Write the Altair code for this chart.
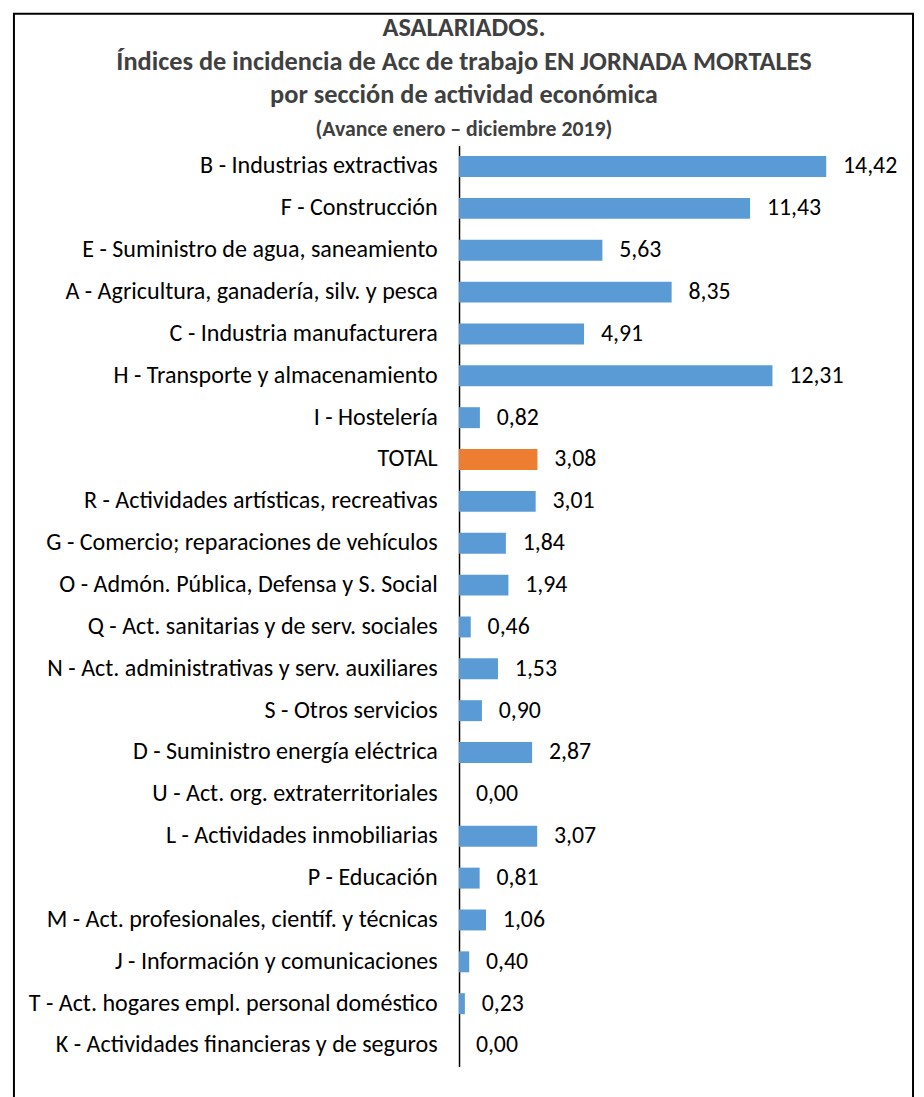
import altair as alt
import pandas as pd

categories = [
    "B - Industrias extractivas",
    "F - Construcción",
    "E - Suministro de agua, saneamiento",
    "A - Agricultura, ganadería, silv. y pesca",
    "C - Industria manufacturera",
    "H - Transporte y almacenamiento",
    "I - Hostelería",
    "TOTAL",
    "R - Actividades artísticas, recreativas",
    "G - Comercio; reparaciones de vehículos",
    "O - Admón. Pública, Defensa y S. Social ",
    "Q - Act. sanitarias y de serv. sociales",
    "N - Act. administrativas y serv. auxiliares",
    "S - Otros servicios",
    "D - Suministro energía eléctrica",
    "U - Act. org. extraterritoriales",
    "L - Actividades inmobiliarias",
    "P - Educación",
    "M - Act. profesionales, científ. y técnicas",
    "J - Información y comunicaciones",
    "T - Act. hogares empl. personal doméstico",
    "K - Actividades financieras y de seguros",
]
values = [14.42, 11.43, 5.63, 8.35, 4.91, 12.31, 0.82, 3.08, 3.01, 1.84, 1.94,
          0.46, 1.53, 0.90, 2.87, 0.00, 3.07, 0.81, 1.06, 0.40, 0.23, 0.00]
groups = ["Total" if c == "TOTAL" else "Sección" for c in categories]

title_lines = [
    "ASALARIADOS.",
    "Índices de incidencia de Acc de trabajo EN JORNADA MORTALES",
    "por sección de actividad económica",
]
subtitle_line = "(Avance enero – diciembre 2019)"

df = pd.DataFrame({
    "cat": categories,
    "val": values,
    "grp": groups,
    "lbl": [f"{v:.2f}".replace(".", ",") for v in values],
})

FONT = "Carlito, 'Liberation Sans Narrow', 'Open Sans', sans-serif"

W = 411
H = 929
PL = 455
PT = 134
X0 = 8 + PL
Y0 = 8 + PT

base = alt.Chart(df)
yenc = alt.Y("cat:N", sort=categories, title=None,
             scale=alt.Scale(paddingInner=0.5, paddingOuter=0.25),
             axis=alt.Axis(ticks=False, labelPadding=22, labelFontSize=24.3,
                           labelFont=FONT, labelColor="#000000", labelLimit=500,
                           domainColor="#000000", domainWidth=1.5, grid=False))
xenc = alt.X("val:Q", scale=alt.Scale(domain=[0, 16]), axis=None)

bars = base.mark_bar().encode(
    x=xenc, y=yenc,
    color=alt.Color("grp:N", scale=alt.Scale(domain=["Sección", "Total"],
                                               range=["#5B9BD5", "#ED7D31"]),
                    legend=None),
)
text = base.mark_text(align="left", dx=17, fontSize=24, font=FONT,
                      color="#000000").encode(x=xenc, y=yenc, text="lbl:N")

all_lines = title_lines + [subtitle_line]
line_y = [31, 66, 99, 132]
line_fs = [26.6, 26.6, 26.6, 22]

def tline(i):
    return alt.Chart(pd.DataFrame({"t": [all_lines[i]]})).mark_text(
        align="center", baseline="alphabetic", fontSize=line_fs[i], fontWeight="bold",
        font=FONT, color="#404040").encode(
        x=alt.value(468 - X0), y=alt.value(line_y[i] - Y0), text="t:N")

titles = [tline(i) for i in range(4)]

border = alt.Chart(pd.DataFrame({"a": [0]})).mark_rect(
    fill=None, stroke="#000000", strokeWidth=2).encode(
    x=alt.value(14 - X0), x2=alt.value(921 - X0),
    y=alt.value(9 - Y0), y2=alt.value(1200))

chart = alt.layer(border, bars, text, *titles).properties(
    width=W, height=H,
    autosize=alt.AutoSizeParams(type="none"),
    padding={"left": PL, "top": PT, "right": 916 - PL - W, "bottom": 1089 - PT - H},
).configure_view(stroke=None)

chart.save("out.html", embed_options={"renderer": "svg", "actions": False})
